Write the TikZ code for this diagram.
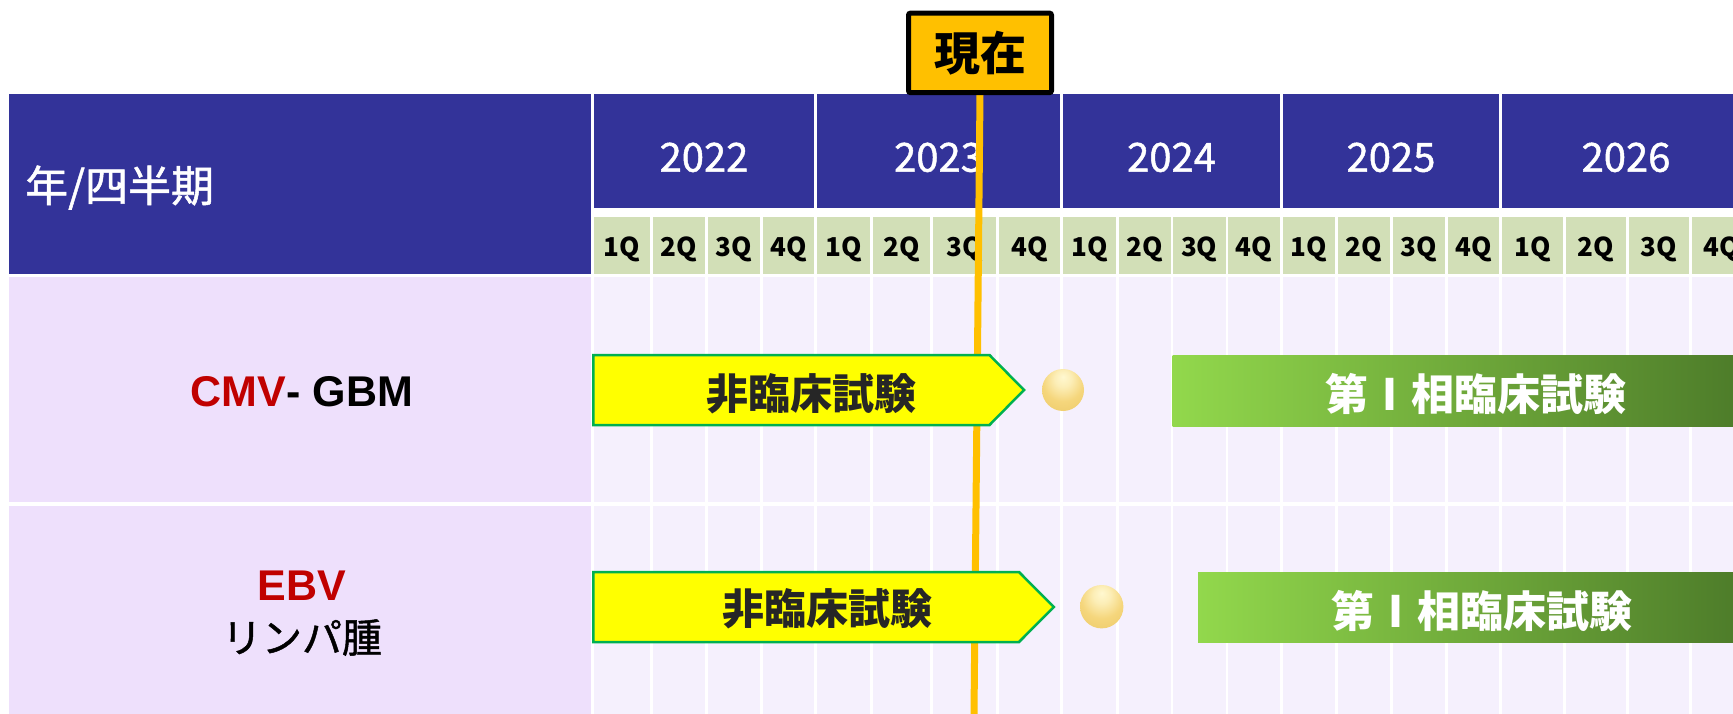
\documentclass[tikz,border=0pt]{standalone}
\usepackage{fontspec}
\newfontfamily\jpfont{Noto Sans CJK JP}
\newfontfamily\jpmed[FakeBold=1.2]{Noto Sans CJK JP}
\newfontfamily\arialfont{Liberation Sans}
\definecolor{hdrnavy}{HTML}{333399}
\definecolor{qgreen}{HTML}{D2DFB7}
\definecolor{leftlav}{HTML}{EEE0FC}
\definecolor{bodylav}{HTML}{F5F0FD}
\definecolor{nowor}{HTML}{FFC000}
\definecolor{arrowfill}{HTML}{FFFF00}
\definecolor{arrowline}{HTML}{00B050}
\definecolor{phgl}{HTML}{92D84C}
\definecolor{phgr}{HTML}{4E7D2A}
\definecolor{txtdark}{HTML}{262626}
\definecolor{redlbl}{HTML}{C00000}
\definecolor{sphhi}{HTML}{FFF8D0}
\definecolor{sphmid}{HTML}{F5D67C}
\definecolor{sphlo}{HTML}{EBC865}
\pgfdeclareradialshading{goldsphere}{\pgfpoint{0bp}{16bp}}{%
  color(0bp)=(sphhi); color(10bp)=(sphhi!70!sphmid); color(24bp)=(sphmid);
  color(44bp)=(sphlo); color(58bp)=(sphmid!60!sphhi); color(70bp)=(sphhi)}
\tikzset{
  yeartxt/.style={text=white, font=\jpmed\fontsize{40}{44}\selectfont, inner sep=0pt, anchor=base},
  qtxt/.style={text=black, font=\jpfont\bfseries\fontsize{26}{30}\selectfont, inner sep=0pt, anchor=base},
  arrowbox/.style={fill=arrowfill, draw=arrowline, line width=2.5pt, line join=miter},
  arrowtxt/.style={text=txtdark, font=\jpfont\bfseries\fontsize{42}{46}\selectfont, inner sep=0pt},
  phasebar/.style={left color=phgl, right color=phgr},
  phasetxt/.style={text=white, font=\jpfont\bfseries\fontsize{43}{46}\selectfont, inner sep=0pt},
  milestone/.style={shading=goldsphere},
  rowlbl/.style={font=\arialfont\bfseries\fontsize{43}{46}\selectfont, inner sep=0pt, anchor=base},
}
\begin{document}
\begin{tikzpicture}[x=1pt,y=-1pt]
\useasboundingbox (0,0) rectangle (1733,714);
\fill[white] (0,0) rectangle (1733,714);

% header: left title block and year cells
\fill[hdrnavy] (9,94) rectangle (591,274.3);
\foreach \l/\r in {593.7/814.2, 817/1060, 1063/1280, 1283/1499.3, 1502.3/1760}
  \fill[hdrnavy] (\l,94) rectangle (\r,208);
\node[text=white, font=\jpmed\fontsize{43}{46}\selectfont, inner sep=0pt, anchor=west] (ttl) at (25,187.5) {年/四半期};

% year labels
\node[yeartxt] (y22) at (704,171.7) {2022};
\node[yeartxt] (y23) at (938.5,171.7) {2023};
\node[yeartxt] (y24) at (1171.5,171.7) {2024};
\node[yeartxt] (y25) at (1391,171.7) {2025};
\node[yeartxt] (y26) at (1626,171.7) {2026};

% left column of the body
\fill[leftlav] (9,276.7) rectangle (591,502);
\fill[leftlav] (9,505.5) rectangle (591,714);

% quarter cells and body grid
\foreach \l/\r/\t [count=\i] in {593.7/650.3/1Q, 652.9/705/2Q, 707.6/760.2/3Q, 762.8/814.2/4Q,
    817/870/1Q, 873/930/2Q, 933/996/3Q, 999/1060/4Q,
    1063/1115.7/1Q, 1118.6/1170.5/2Q, 1173/1225.5/3Q, 1228/1280/4Q,
    1283/1335/1Q, 1338/1390/2Q, 1393/1445/3Q, 1448/1499.3/4Q,
    1502.3/1562.7/1Q, 1566/1626/2Q, 1629/1689/3Q, 1692/1752/4Q} {
  \fill[qgreen] (\l,216.7) rectangle (\r,274.3);
  \fill[bodylav] (\l,276.7) rectangle (\r,502);
  \fill[bodylav] (\l,505.5) rectangle (\r,714);
  \node[qtxt] (q\i) at ({(\l+\r)/2},256.7) {\t};
}

% row labels
\node[rowlbl] (cmv) at (302,406.7) {\textcolor{redlbl}{CMV}- GBM};
\node[rowlbl, text=redlbl] (ebv) at (302,600) {EBV};
\node[font=\jpmed\fontsize{40}{44}\selectfont, inner sep=0pt] (lym) at (302,637.5) {リンパ腫};

% current-date marker line
\coordinate (nowtop) at (980,94);
\coordinate (nowbot) at (974,714);
\draw[nowor, line width=7pt] (nowtop) -- (nowbot);

% row 1: preclinical, milestone, phase I
\draw[arrowbox] (593.4,355) -- (989.5,355) -- (1024,390) -- (989.5,425) -- (593.4,425) -- cycle;
\node[arrowtxt] (pre1) at (811,394) {非臨床試験};
\shade[milestone] (1063,390) circle (21);
\fill[phasebar] (1172.7,355) rectangle (1733,426);
\node[phasetxt] (ph1) at (1476,394) {第Ⅰ相臨床試験};

% row 2: preclinical, milestone, phase I
\draw[arrowbox] (593.4,572) -- (1019,572) -- (1053.8,607) -- (1019,642) -- (593.4,642) -- cycle;
\node[arrowtxt] (pre2) at (827,609) {非臨床試験};
\shade[milestone] (1101.7,606.7) circle (21.7);
\fill[phasebar] (1198,572) rectangle (1733,642.7);
\node[phasetxt] (ph2) at (1482,611) {第Ⅰ相臨床試験};

% "now" flag
\node[draw=black, fill=nowor, line width=5pt, rounded corners=2pt, minimum width=143pt, minimum height=79.5pt, inner sep=0pt,
      font=\jpfont\bfseries\fontsize{46}{50}\selectfont] (now) at (980,52.9) {現在};
\end{tikzpicture}
\end{document}
